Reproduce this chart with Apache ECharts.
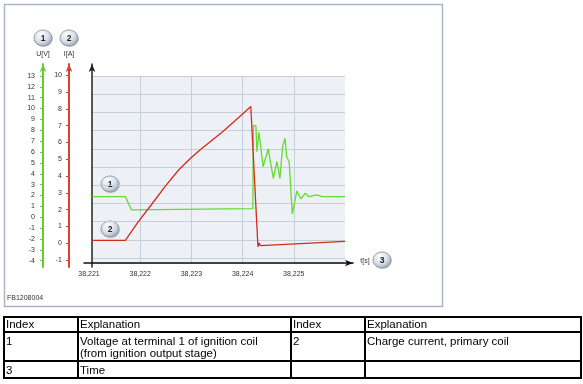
<!DOCTYPE html>
<html><head><meta charset="utf-8">
<script src="https://cdn.jsdelivr.net/npm/echarts@6/dist/echarts.min.js"></script>
<style>
html,body{margin:0;padding:0;background:#fff;}
#chart{position:absolute;left:0;top:0;width:583px;height:384px;}
table{position:absolute;left:3px;top:316px;width:577px;border-collapse:collapse;font-family:"Liberation Sans",Arial,sans-serif;font-size:11.5px;color:#000;table-layout:fixed;}
td{border:2px solid #000;padding:0 1px;vertical-align:top;line-height:12px;overflow:hidden;white-space:nowrap;}
</style></head><body>
<div id="chart"></div>
<table>
<colgroup><col style="width:74px"><col style="width:213px"><col style="width:74px"><col style="width:216px"></colgroup>
<tr style="height:15px"><td>Index</td><td>Explanation</td><td>Index</td><td>Explanation</td></tr>
<tr style="height:29px"><td style="padding-top:2px">1</td><td style="padding-top:2px">Voltage at terminal 1 of ignition coil<br>(from ignition output stage)</td><td style="padding-top:2px">2</td><td style="padding-top:2px">Charge current, primary coil</td></tr>
<tr style="height:17px"><td style="padding-top:2px">3</td><td style="padding-top:2px">Time</td><td></td><td></td></tr>
</table>
<script>
// ---- data ----
const timeTicks = [38.221, 38.222, 38.223, 38.224, 38.225];
const voltTicks = [-4,-3,-2,-1,0,1,2,3,4,5,6,7,8,9,10,11,12,13];
const currTicks = [-1,0,1,2,3,4,5,6,7,8,9,10];
const voltage = [
  [38.22106,1.89],[38.22171,1.89],[38.22183,0.67],[38.22186,0.79],[38.22420,0.79],
  [38.22421,8.43],[38.22426,8.43],[38.22428,6.03],[38.22432,7.82],[38.22440,4.65],
  [38.22450,6.28],[38.22460,3.58],[38.22467,5.11],[38.22473,3.58],[38.22478,6.49],
  [38.22483,7.27],[38.22486,5.57],[38.22491,5.11],[38.22497,0.30],[38.22506,2.42],
  [38.22514,1.68],[38.22522,2.20],[38.22530,1.89],[38.22545,2.05],[38.22555,1.89],
  [38.22600,1.89]
];
const current = [
  [38.22106,0.17],[38.22171,0.17],[38.22195,1.23],[38.22224,2.38],[38.22248,3.35],
  [38.22275,4.36],[38.22301,5.13],[38.22319,5.61],[38.22361,6.64],[38.22400,7.70],
  [38.22416,8.14],[38.22430,-0.21],[38.22432,0.01],[38.22435,-0.14],[38.22600,0.11]
];

// ---- layout helpers (pixel -> time for axis extents) ----
const T0 = 38.221, T0PX = 89, PXS = 51200;
const tAt = px => T0 + (px - T0PX) / PXS;
const fmtT = v => v.toFixed(3).replace('.', ',');
const FONT = '"Liberation Sans", Arial, sans-serif';
const GREEN = '#62dc2e', RED = '#d42a1c', AXG = '#5fd22a', AXR = '#d8432f';

function badge(cx, cy, label) {
  return {
    type: 'group', children: [
      { type: 'ellipse', shape: { cx: cx + 0.8, cy: cy + 1, rx: 9, ry: 8 }, style: { fill: 'rgba(0,0,0,0.18)' } },
      { type: 'ellipse', shape: { cx: cx, cy: cy, rx: 9, ry: 8 },
        style: { fill: new echarts.graphic.RadialGradient(0.4, 0.3, 0.75, [
          { offset: 0, color: '#ffffff' }, { offset: 0.6, color: '#d6dce6' }, { offset: 1, color: '#98a4b7' }]),
          stroke: '#7e8a9d', lineWidth: 0.8 } },
      { type: 'text', style: { x: cx, y: cy + 0.5, text: label, fill: '#222', font: 'bold 8.5px ' + FONT, align: 'center', verticalAlign: 'middle' } }
    ]
  };
}

const chart = echarts.init(document.getElementById('chart'), null, { renderer: 'canvas' });
const hidden = { axisLine: { show: false }, axisTick: { show: false }, axisLabel: { show: false }, splitLine: { show: false } };

chart.setOption({
  animation: false,
  grid: [
    { left: 92, top: 76, width: 253, height: 187, show: true, backgroundColor: '#edf1f6', borderWidth: 0 },
    { left: 84, top: 76, width: 269, height: 187 },
    { left: 92, top: 64, width: 253, height: 203 }
  ],
  xAxis: [
    { gridIndex: 0, type: 'value', min: tAt(92), max: tAt(345),
      axisLine: { show: false }, axisLabel: { show: false },
      axisTick: { show: false, customValues: timeTicks },
      splitLine: { show: true, lineStyle: { color: '#c6cedb', width: 1 } } },
    { gridIndex: 1, type: 'value', min: tAt(84), max: tAt(353),
      axisLine: { show: true, symbol: ['none', 'arrow'], symbolSize: [5, 8], lineStyle: { color: '#111', width: 1.5 } },
      axisTick: { show: false },
      axisLabel: { show: true, customValues: timeTicks, formatter: fmtT, fontSize: 7, color: '#333', fontFamily: FONT, margin: 8 },
      splitLine: { show: false } },
    Object.assign({ gridIndex: 2, type: 'value', min: tAt(92), max: tAt(345) }, hidden)
  ],
  yAxis: [
    Object.assign({}, hidden, { gridIndex: 0, type: 'value', inverse: true, min: 0, max: 187 / 18.2, interval: 1,
      splitLine: { show: true, lineStyle: { color: '#c6cedb', width: 1 } } }),
    Object.assign({ gridIndex: 1, type: 'value', min: 0, max: 1 }, hidden),
    { gridIndex: 2, type: 'value', position: 'left', offset: 0, min: 0, max: 1,
      axisLine: { show: true, symbol: ['none', 'arrow'], symbolSize: [5, 8], lineStyle: { color: '#222', width: 1.5 } },
      axisTick: { show: false }, axisLabel: { show: false }, splitLine: { show: false } },
    { gridIndex: 2, type: 'value', position: 'left', offset: 49, min: -4.58, max: 14.10,
      name: 'U[V]', nameLocation: 'end', nameGap: 6,
      nameTextStyle: { fontSize: 7, color: '#333', fontFamily: FONT, align: 'center', verticalAlign: 'bottom' },
      axisLine: { show: true, symbol: ['none', 'arrow'], symbolSize: [5, 8], lineStyle: { color: AXG, width: 2 } },
      axisTick: { show: true, length: 3, customValues: voltTicks, lineStyle: { color: AXG } },
      axisLabel: { show: true, customValues: voltTicks, fontSize: 7, color: '#333', fontFamily: FONT, margin: 8 },
      splitLine: { show: false } },
    { gridIndex: 2, type: 'value', position: 'left', offset: 23, min: -1.417, max: 10.673,
      name: 'I[A]', nameLocation: 'end', nameGap: 6,
      nameTextStyle: { fontSize: 7, color: '#333', fontFamily: FONT, align: 'center', verticalAlign: 'bottom' },
      axisLine: { show: true, symbol: ['none', 'arrow'], symbolSize: [5, 8], lineStyle: { color: AXR, width: 2 } },
      axisTick: { show: true, length: 3, customValues: currTicks, lineStyle: { color: AXR } },
      axisLabel: { show: true, customValues: currTicks, fontSize: 7, color: '#333', fontFamily: FONT, margin: 7 },
      splitLine: { show: false } }
  ],
  series: [
    { name: 'U', type: 'line', xAxisIndex: 2, yAxisIndex: 3, data: voltage, symbol: 'none',
      lineStyle: { color: GREEN, width: 1.3 }, z: 3 },
    { name: 'I', type: 'line', xAxisIndex: 2, yAxisIndex: 4, data: current, symbol: 'none',
      lineStyle: { color: RED, width: 1.3 }, z: 4 }
  ],
  graphic: [
    { type: 'rect', shape: { x: 4.5, y: 4.5, width: 438, height: 302 }, style: { fill: 'none', stroke: '#a9b4c9', lineWidth: 1.5 }, z: -10 },
    badge(43, 38, '1'), badge(69, 38, '2'),
    badge(110, 184, '1'), badge(110, 229, '2'),
    badge(382, 260, '3'),
    { type: 'text', style: { x: 365, y: 261, text: 't[s]', fill: '#333', font: '7px ' + FONT, align: 'center', verticalAlign: 'middle' } },
    { type: 'text', style: { x: 7, y: 298, text: 'FB1208004', fill: '#333', font: '7px ' + FONT, align: 'left', verticalAlign: 'middle' } }
  ]
});
</script>
</body></html>
